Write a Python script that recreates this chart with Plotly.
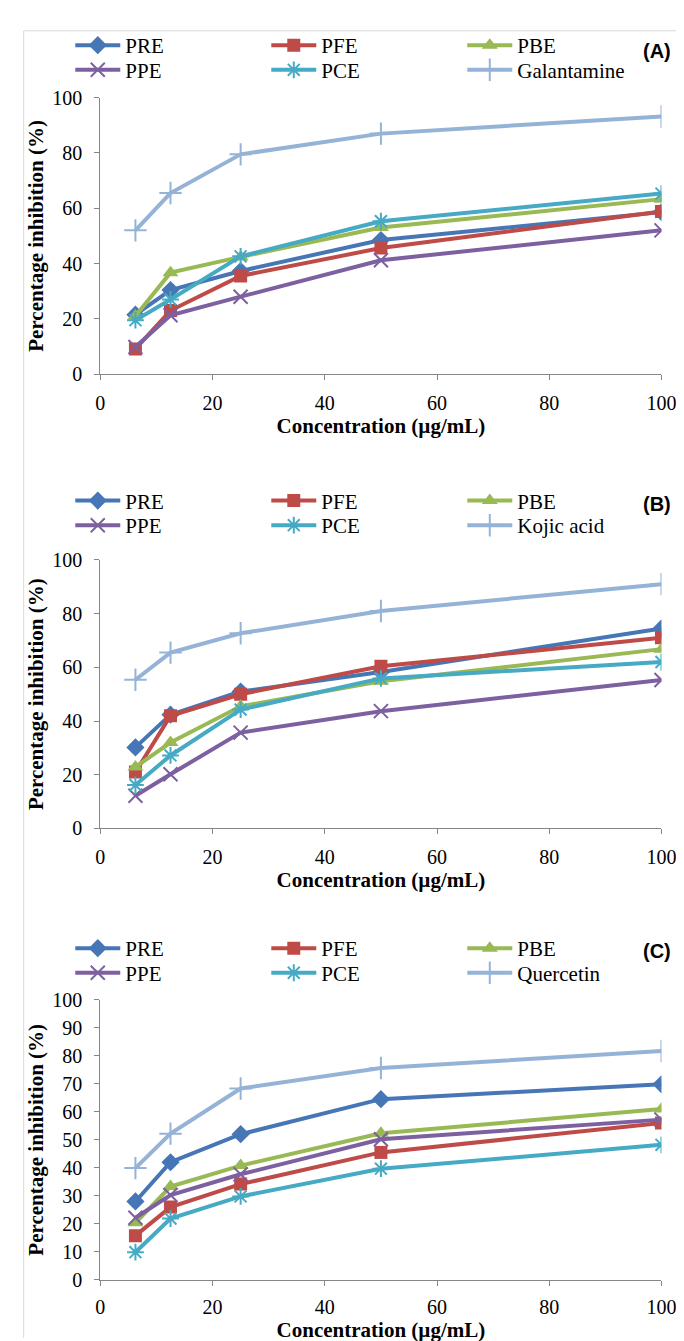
import plotly.graph_objects as go

W, H = 684, 1341

conc = [6.25, 12.5, 25, 50, 100]
extract_names = ["PRE", "PFE", "PBE", "PPE", "PCE"]

# Panel A values (% inhibition)
a_pre = [21.5, 30.4, 37.3, 48.5, 58.6]
a_pfe = [9.1, 23.0, 35.5, 45.6, 58.8]
a_pbe = [21.0, 36.7, 42.4, 53.0, 63.3]
a_ppe = [9.8, 21.3, 28.0, 41.2, 52.0]
a_pce = [19.5, 27.0, 42.6, 55.3, 65.3]
a_ref = [52.0, 65.5, 79.5, 87.0, 93.2]
a_ref_name = "Galantamine"

# Panel B values
b_pre = [30.2, 42.4, 51.0, 58.3, 74.5]
b_pfe = [21.0, 42.0, 50.0, 60.4, 71.0]
b_pbe = [22.9, 32.0, 45.5, 54.8, 66.8]
b_ppe = [12.2, 20.2, 35.7, 43.7, 55.3]
b_pce = [16.2, 27.2, 44.3, 55.9, 62.0]
b_ref = [55.4, 65.5, 72.7, 81.0, 91.0]
b_ref_name = "Kojic acid"

# Panel C values
c_pre = [28.0, 42.0, 52.0, 64.5, 69.8]
c_pfe = [15.8, 26.0, 34.2, 45.5, 56.0]
c_pbe = [20.4, 33.3, 40.8, 52.3, 61.0]
c_ppe = [22.2, 30.3, 37.7, 50.2, 57.2]
c_pce = [9.9, 21.9, 29.8, 39.7, 48.2]
c_ref = [39.9, 52.2, 68.3, 75.6, 81.7]
c_ref_name = "Quercetin"

panel_labels = ["(A)", "(B)", "(C)"]
x_title = "Concentration (µg/mL)"
y_title = "Percentage inhibition (%)"

colors = ["#4676B6", "#BE4B48", "#98B954", "#7D60A0", "#46AAC5", "#95B3D7"]
symbols = ["diamond", "square", "triangle-up", "x-thin", "asterisk", "cross-thin"]
msizes = [14, 13, 14, 14, 14, 16]

panels = [
    ([a_pre, a_pfe, a_pbe, a_ppe, a_pce, a_ref], a_ref_name),
    ([b_pre, b_pfe, b_pbe, b_ppe, b_pce, b_ref], b_ref_name),
    ([c_pre, c_pfe, c_pbe, c_ppe, c_pce, c_ref], c_ref_name),
]

# pixel geometry (y of value 0 and value 100, legend rows)
geo = [
    dict(y0=361, y100=80, leg1=27, leg2=52, lab=33, dtick=20, tstand=6, xstand=4),
    dict(y0=823, y100=550, leg1=490, leg2=515, lab=493, dtick=20, tstand=6, xstand=4),
    dict(y0=1282, y100=997, leg1=945, leg2=970, lab=948, dtick=10, tstand=4, xstand=0),
]
X0, X100 = 90, 668

def px(x):
    return x / W

def py(y):
    return 1 - y / H

serif = "Liberation Serif"
fig = go.Figure()
layout = {}
annotations = []

for p, ((vals, ref_name), g) in enumerate(zip(panels, geo)):
    ax = "" if p == 0 else str(p + 1)
    names = extract_names + [ref_name]
    for i, (nm, v) in enumerate(zip(names, vals)):
        leg_idx = 2 * p + (1 if i < 3 else 2)
        leg_name = "legend" if leg_idx == 1 else f"legend{leg_idx}"
        thin = symbols[i].endswith("thin") or symbols[i] == "asterisk"
        marker = dict(symbol=symbols[i], size=msizes[i], color=colors[i])
        marker["line"] = dict(width=2 if thin else 0, color=colors[i])
        fig.add_trace(go.Scatter(
            x=conc, y=v, name=nm, mode="lines+markers",
            line=dict(color=colors[i], width=4),
            marker=marker,
            xaxis="x" + ax, yaxis="y" + ax,
            legend=leg_name, showlegend=True,
        ))
    axis_common = dict(
        showline=True, linecolor="#868686", linewidth=1,
        ticks="outside", ticklen=5, tickcolor="#868686",
        showgrid=False, zeroline=False,
        tickfont=dict(family=serif, size=20, color="black"),
    )
    layout["xaxis" + ax] = dict(
        axis_common, range=[0, 100], dtick=20, tick0=0,
        domain=[px(X0), px(X100)], anchor="y" + ax,
        ticklabelstandoff=g["tstand"],
        title=dict(text="<b>" + x_title + "</b>",
                   font=dict(family=serif, size=21, color="black"), standoff=g["xstand"]),
    )
    layout["yaxis" + ax] = dict(
        axis_common, range=[0, 100], dtick=g["dtick"], tick0=0,
        domain=[py(g["y0"]), py(g["y100"])], anchor="x" + ax,
        ticklabelstandoff=8,
        title=dict(text="<b>" + y_title + "</b>",
                   font=dict(family=serif, size=21, color="black"), standoff=3),
    )
    for r, key in enumerate(["leg1", "leg2"]):
        leg_idx = 2 * p + 1 + r
        leg_name = "legend" if leg_idx == 1 else f"legend{leg_idx}"
        layout[leg_name] = dict(
            orientation="h", x=px(59), y=py(g[key]), xanchor="left", yanchor="middle",
            xref="paper", yref="paper",
            entrywidth=136, itemwidth=45,
            font=dict(family=serif, size=21, color="black"),
            bgcolor="rgba(0,0,0,0)", tracegroupgap=0,
        )
    annotations.append(dict(
        text="<b>" + panel_labels[p] + "</b>", x=px(680), y=py(g["lab"]),
        xref="paper", yref="paper", xanchor="right", yanchor="middle",
        showarrow=False, font=dict(family="Liberation Sans", size=20, color="black"),
    ))

shapes = [
    dict(type="line", xref="paper", yref="paper", x0=px(11), x1=1, y0=py(12), y1=py(12),
         line=dict(color="#D9D9D9", width=1)),
    dict(type="line", xref="paper", yref="paper", x0=px(11), x1=px(11), y0=py(12), y1=0,
         line=dict(color="#D9D9D9", width=1)),
]

fig.update_layout(
    width=W, height=H, margin=dict(l=0, r=0, t=0, b=0),
    paper_bgcolor="white", plot_bgcolor="white",
    annotations=annotations, shapes=shapes, showlegend=True,
    **layout,
)
fig.write_html("out.html")
